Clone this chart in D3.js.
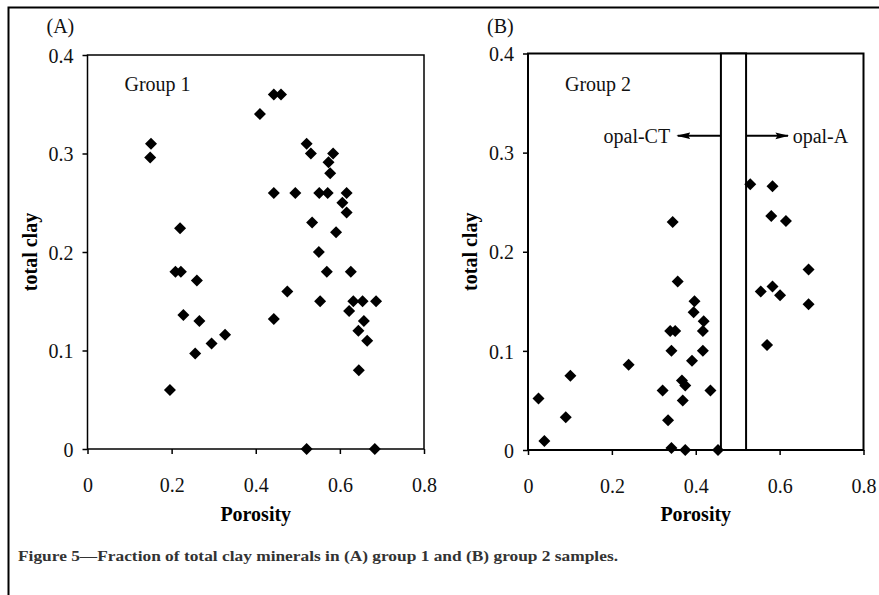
<!DOCTYPE html>
<html>
<head>
<meta charset="utf-8">
<script src="https://cdn.jsdelivr.net/npm/d3@7"></script>
<style>
  html, body { margin: 0; padding: 0; background: #fff; }
  svg { display: block; }
  .tick text { font-family: "Liberation Serif", "Times New Roman", serif; font-size: 20px; fill: #111; }
</style>
</head>
<body>
<div id="chart"></div>
<script>
const width = 879;
const height = 595;

// Group 1 samples: porosity / total clay
const porosityA = [0.151, 0.149, 0.410, 0.443, 0.460, 0.521, 0.531, 0.573, 0.584, 0.577,
  0.443, 0.494, 0.551, 0.571, 0.616, 0.606, 0.616, 0.534, 0.591, 0.220,
  0.550, 0.209, 0.222, 0.569, 0.626, 0.260, 0.475, 0.553, 0.632, 0.654,
  0.686, 0.622, 0.228, 0.266, 0.443, 0.657, 0.644, 0.327, 0.295, 0.665,
  0.256, 0.645, 0.196, 0.521, 0.683];
const clayA = [0.310, 0.296, 0.340, 0.360, 0.360, 0.310, 0.300, 0.291, 0.300, 0.280,
  0.260, 0.260, 0.260, 0.260, 0.260, 0.250, 0.240, 0.230, 0.220, 0.224,
  0.200, 0.180, 0.180, 0.180, 0.180, 0.171, 0.160, 0.150, 0.150, 0.150,
  0.150, 0.140, 0.136, 0.130, 0.132, 0.130, 0.120, 0.116, 0.107, 0.110,
  0.097, 0.080, 0.060, 0.000, 0.000];

// Group 2 samples: porosity / total clay
const porosityB = [0.530, 0.583, 0.580, 0.615, 0.345, 0.669, 0.357, 0.555, 0.583, 0.601,
  0.669, 0.570, 0.397, 0.395, 0.419, 0.417, 0.339, 0.351, 0.342, 0.417,
  0.391, 0.240, 0.101, 0.367, 0.375, 0.321, 0.435, 0.025, 0.369, 0.090,
  0.334, 0.039, 0.342, 0.375, 0.453];
const clayB = [0.268, 0.266, 0.236, 0.231, 0.230, 0.182, 0.170, 0.160, 0.165, 0.156,
  0.147, 0.106, 0.150, 0.139, 0.130, 0.120, 0.120, 0.120, 0.100, 0.100,
  0.090, 0.086, 0.075, 0.070, 0.065, 0.060, 0.060, 0.052, 0.050, 0.033,
  0.030, 0.009, 0.002, 0.000, 0.000];

const xTicks = [0, 0.2, 0.4, 0.6, 0.8];
const yTicks = [0, 0.1, 0.2, 0.3, 0.4];

// transition zone between opal-CT and opal-A (porosity)
const opalZone = [0.46, 0.52];
const arrowClay = 0.317;

const serif = '"Liberation Serif", "Times New Roman", serif';

const svg = d3.select("#chart")
  .append("svg")
  .attr("width", width)
  .attr("height", height)
  .attr("viewBox", `0 0 ${width} ${height}`);

svg.append("defs").append("marker")
  .attr("id", "arrow")
  .attr("viewBox", "0 0 10 10")
  .attr("refX", 9).attr("refY", 5)
  .attr("markerWidth", 7).attr("markerHeight", 7)
  .attr("markerUnits", "strokeWidth")
  .attr("orient", "auto")
  .append("path")
  .attr("d", "M0,2.6 L10,5 L0,7.4 L1.5,5 Z")
  .attr("fill", "#000");

// outer frame (top and left edges only are visible)
svg.append("path")
  .attr("d", `M8.5,${height} L8.5,7.5 L${width},7.5`)
  .attr("fill", "none")
  .attr("stroke", "#000")
  .attr("stroke-width", 2);

function drawPanel(opts) {
  const x = d3.scaleLinear().domain([0, 0.8]).range([opts.left, opts.right]);
  const y = d3.scaleLinear().domain([0, 0.4]).range([opts.bottom, opts.top]);
  const g = svg.append("g");

  // plot frame
  g.append("rect")
    .attr("x", opts.left).attr("y", opts.top)
    .attr("width", opts.right - opts.left)
    .attr("height", opts.bottom - opts.top)
    .attr("fill", "none")
    .attr("stroke", "#000")
    .attr("stroke-width", opts.frame);

  const xAxis = g.append("g")
    .attr("transform", `translate(0,${opts.bottom})`)
    .call(d3.axisBottom(x).tickValues(xTicks).tickSize(5).tickPadding(24)
      .tickFormat(d => d === 0 ? "0" : d3.format(".1f")(d)));
  const yAxis = g.append("g")
    .attr("transform", `translate(${opts.left},0)`)
    .call(d3.axisLeft(y).tickValues(yTicks).tickSize(5).tickPadding(9)
      .tickFormat(d => d === 0 ? "0" : d3.format(".1f")(d)));
  [xAxis, yAxis].forEach(a => {
    a.select(".domain").remove();
    a.selectAll(".tick line").attr("stroke", "#000").attr("stroke-width", 1.5);
    a.attr("font-family", null).attr("font-size", null);
  });
  yAxis.selectAll(".tick text").attr("dy", "0.36em");

  if (opts.extra) opts.extra(g, x, y);

  // diamonds
  const diamond = d3.symbol(d3.symbolSquare, 72);
  g.selectAll("path.pt")
    .data(opts.xs.map((v, i) => [v, opts.ys[i]]))
    .enter()
    .append("path")
    .attr("class", "pt")
    .attr("d", diamond)
    .attr("transform", d => `translate(${x(d[0])},${y(d[1])}) rotate(45)`)
    .attr("fill", "#000");

  g.append("text")
    .attr("x", opts.left + 37).attr("y", 91)
    .attr("font-family", serif).attr("font-size", 20)
    .attr("fill", "#111")
    .text(opts.group);

  g.append("text")
    .attr("x", opts.left - 41).attr("y", 33)
    .attr("font-family", serif).attr("font-size", 20)
    .attr("fill", "#111")
    .text(opts.tag);

  g.append("text")
    .attr("x", (opts.left + opts.right) / 2)
    .attr("y", 521)
    .attr("text-anchor", "middle")
    .attr("font-family", serif).attr("font-size", 20).attr("font-weight", "bold")
    .text("Porosity");

  const cy = (opts.top + opts.bottom) / 2;
  g.append("text")
    .attr("transform", `translate(${opts.left - 51},${cy}) rotate(-90)`)
    .attr("text-anchor", "middle")
    .attr("font-family", serif).attr("font-size", 20).attr("font-weight", "bold")
    .text("total clay");
}

drawPanel({
  left: 87.5, right: 424, top: 55, bottom: 449, frame: 1.5,
  xs: porosityA, ys: clayA, group: "Group 1", tag: "(A)"
});

drawPanel({
  left: 528, right: 863.5, top: 53.5, bottom: 450, frame: 2,
  xs: porosityB, ys: clayB, group: "Group 2", tag: "(B)",
  extra: (g, x, y) => {
    g.append("rect")
      .attr("x", x(opalZone[0])).attr("y", y(0.4))
      .attr("width", x(opalZone[1]) - x(opalZone[0]))
      .attr("height", y(0) - y(0.4))
      .attr("fill", "#fff")
      .attr("stroke", "#000")
      .attr("stroke-width", 2);
    const ay = y(arrowClay);
    g.append("line")
      .attr("x1", x(opalZone[0])).attr("x2", x(0.357))
      .attr("y1", ay).attr("y2", ay)
      .attr("stroke", "#000").attr("stroke-width", 2)
      .attr("marker-end", "url(#arrow)");
    g.append("line")
      .attr("x1", x(opalZone[1])).attr("x2", x(0.62))
      .attr("y1", ay).attr("y2", ay)
      .attr("stroke", "#000").attr("stroke-width", 2)
      .attr("marker-end", "url(#arrow)");
    g.append("text")
      .attr("x", x(0.339)).attr("y", ay + 7)
      .attr("text-anchor", "end")
      .attr("font-family", serif).attr("font-size", 20).attr("fill", "#111")
      .text("opal-CT");
    g.append("text")
      .attr("x", x(0.631)).attr("y", ay + 7)
      .attr("font-family", serif).attr("font-size", 20).attr("fill", "#111")
      .text("opal-A");
  }
});

// caption
svg.append("text")
  .attr("x", 18).attr("y", 561)
  .attr("font-family", serif).attr("font-size", 14.5).attr("font-weight", "bold")
  .attr("fill", "#333")
  .attr("textLength", 600)
  .attr("lengthAdjust", "spacingAndGlyphs")
  .text("Figure 5\u2014Fraction of total clay minerals in (A) group 1 and (B) group 2 samples.");
</script>
</body>
</html>
